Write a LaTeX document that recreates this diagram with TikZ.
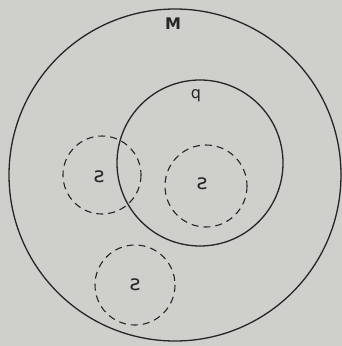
\documentclass[tikz,border=0pt]{standalone}
\usepackage{fontspec}
\setmainfont{DejaVu Sans}
\definecolor{paper}{HTML}{CFCFCC}
\definecolor{ink}{HTML}{262626}
\begin{document}
\begin{tikzpicture}[x=1pt,y=-1pt,
  solidring/.style={draw=ink,line width=1.3pt},
  dashring/.style={draw=ink,line width=1.1pt,dash pattern=on 7pt off 5pt},
  lbl/.style={text=ink,inner sep=0pt}]
\fill[fill=paper] (0,0) rectangle (342,346);
\useasboundingbox (0,0) rectangle (342,346);
\draw[solidring] (175,175) circle (166);
\draw[solidring] (200,163) circle (83);
\draw[dashring] (102,175) circle (39);
\draw[dashring] (206,186) circle (41);
\draw[dashring] (135,285) circle (40);
\node[lbl,font=\fontsize{16}{16}\selectfont\bfseries] (m) at (173,24) {M};
\node[lbl,font=\fontsize{16}{16}\selectfont] (q) at (196,96) {q};
\node[lbl,font=\fontsize{21}{21}\selectfont] (s1) at (99,177) {ƨ};
\node[lbl,font=\fontsize{21}{21}\selectfont] (s2) at (202,184) {ƨ};
\node[lbl,font=\fontsize{21}{21}\selectfont] (s3) at (135,285) {ƨ};
\end{tikzpicture}
\end{document}
